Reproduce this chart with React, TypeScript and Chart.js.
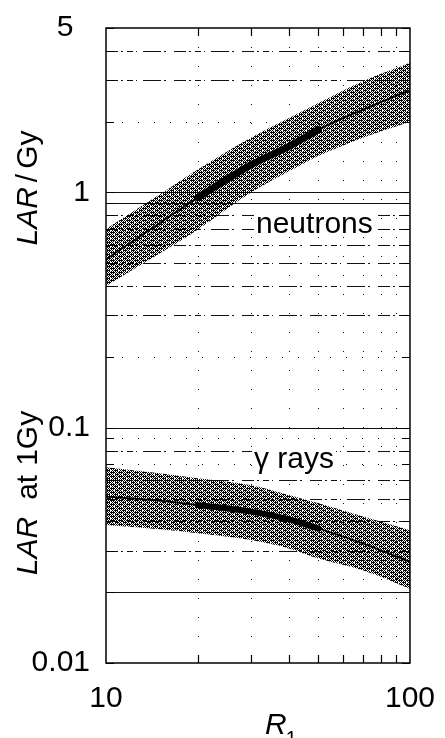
import React, { useEffect, useRef } from 'react';
import { Chart, registerables } from 'chart.js';

Chart.register(...registerables);

// ---- data ----
const R1 = [10, 15, 20, 30, 40, 50, 70, 100];
const neutronUpper = [0.70, 0.98, 1.25, 1.71, 2.07, 2.4, 2.97, 3.56];
const neutronLower = [0.40, 0.55, 0.695, 1.0, 1.23, 1.43, 1.71, 2.0];
const neutronCentral = [0.52, 0.74, 0.95, 1.31, 1.57, 1.85, 2.25, 2.72];

const gammaUpper = [0.068, 0.064, 0.061, 0.057, 0.0518, 0.0477, 0.0419, 0.0367];
const gammaLower = [0.0386, 0.037, 0.0356, 0.0333, 0.0307, 0.0278, 0.0248, 0.0207];
const gammaCentral = [0.051, 0.049, 0.0469, 0.044, 0.0408, 0.0373, 0.0322, 0.0269];

const boldR1 = [20, 30, 40, 50];
const neutronBold = [0.95, 1.31, 1.57, 1.85];
const gammaBold = [0.0469, 0.044, 0.0408, 0.0373];

const xTicks = [10, 20, 30, 40, 50, 60, 70, 80, 90, 100];
const xLabelled = [10, 100];
const yTicks = [
  0.01, 0.02, 0.03, 0.04, 0.05, 0.06, 0.07, 0.08, 0.09,
  0.1, 0.2, 0.3, 0.4, 0.5, 0.6, 0.7, 0.8, 0.9,
  1, 2, 3, 4, 5,
];
const yLabelled = [0.01, 0.1, 1, 5];
const yGridSolid = [0.02, 0.1, 0.9, 1];
const yGridDotted = [2, 0.2, 0.07, 0.09];
const yGridDashed = [4, 3, 0.8, 0.7, 0.6, 0.5, 0.4, 0.3, 0.08, 0.06, 0.05, 0.04, 0.03];
const xGrid = [20, 30, 40, 50, 60, 70, 80, 90];

const FONT = "'Liberation Sans', Arial, Helvetica, sans-serif";

const pts = (xs: number[], ys: number[]) => xs.map((x, i) => ({ x, y: ys[i] }));

function makePattern(): CanvasPattern | string {
  const N = 8;
  const c = document.createElement('canvas');
  c.width = N;
  c.height = N;
  const g = c.getContext('2d');
  if (!g) return '#777';
  g.clearRect(0, 0, N, N);
  g.fillStyle = '#000';
  for (let y = 0; y < N; y++) {
    for (let x = 0; x < N; x++) {
      if ((x + y) % 2 === 0) g.fillRect(x, y, 1, 1);
    }
  }
  // extra dark specks and a couple of light holes, like the scanned dither
  const dark = [[1, 0], [3, 2], [5, 6], [7, 4], [1, 4], [5, 2], [3, 6], [7, 0]];
  dark.forEach(([x, y]) => g.fillRect(x, y, 1, 1));
  g.clearRect(2, 2, 1, 1);
  g.clearRect(6, 6, 1, 1);
  const main = document.createElement('canvas').getContext('2d');
  const p = main ? main.createPattern(c, 'repeat') : null;
  return p || '#777';
}

const decorPlugin = {
  id: 'decor',
  beforeDatasetsDraw(chart: any) {
    const { ctx, chartArea: a, scales } = chart;
    const xs = scales.x;
    const ys = scales.y;
    ctx.save();
    ctx.strokeStyle = '#111';
    ctx.lineWidth = 1;
    const hline = (v: number, dash: number[]) => {
      const y = Math.round(ys.getPixelForValue(v)) + 0.5;
      ctx.setLineDash(dash);
      ctx.beginPath();
      ctx.moveTo(a.left, y);
      ctx.lineTo(a.right, y);
      ctx.stroke();
    };
    yGridSolid.forEach((v) => hline(v, []));
    yGridDashed.forEach((v) => hline(v, [12, 3, 2, 4, 6, 3, 1, 6, 18, 3, 2, 8]));
    yGridDotted.forEach((v) => hline(v, [1, 15]));
    ctx.setLineDash([1, 18]);
    xGrid.forEach((v) => {
      const x = Math.round(xs.getPixelForValue(v)) + 0.5;
      ctx.beginPath();
      ctx.moveTo(x, a.top);
      ctx.lineTo(x, a.bottom);
      ctx.stroke();
    });
    ctx.restore();
  },
  afterDatasetsDraw(chart: any) {
    const { ctx, chartArea: a, scales } = chart;
    const xs = scales.x;
    const ys = scales.y;
    ctx.save();
    ctx.setLineDash([]);
    ctx.strokeStyle = '#000';
    // inward ticks
    ctx.lineWidth = 1.2;
    const TL = 8;
    xGrid.forEach((v) => {
      const x = Math.round(xs.getPixelForValue(v)) + 0.5;
      ctx.beginPath();
      ctx.moveTo(x, a.bottom);
      ctx.lineTo(x, a.bottom - TL);
      ctx.moveTo(x, a.top);
      ctx.lineTo(x, a.top + TL);
      ctx.stroke();
    });
    yTicks.forEach((v) => {
      const y = Math.round(ys.getPixelForValue(v)) + 0.5;
      ctx.beginPath();
      ctx.moveTo(a.left, y);
      ctx.lineTo(a.left + TL, y);
      ctx.moveTo(a.right, y);
      ctx.lineTo(a.right - TL, y);
      ctx.stroke();
    });
    // frame
    ctx.lineWidth = 1.5;
    ctx.strokeRect(a.left, a.top, a.right - a.left, a.bottom - a.top);

    // annotations with white background
    ctx.textBaseline = 'alphabetic';
    ctx.textAlign = 'left';
    ctx.font = `30px ${FONT}`;
    const nText = 'neutrons';
    const nw = ctx.measureText(nText).width;
    ctx.fillStyle = '#fff';
    ctx.fillRect(254, 206, nw + 6, 31);
    ctx.fillStyle = '#000';
    ctx.fillText(nText, 256, 233);

    const gText = 'γ rays';
    const gw = ctx.measureText(gText).width;
    ctx.fillStyle = '#fff';
    ctx.fillRect(252, 445, gw + 4, 33);
    ctx.fillStyle = '#000';
    ctx.fillText(gText, 254, 468);

    // y-axis titles (rotated; baseline on the right side)
    const drawRotated = (parts: { t: string; italic: boolean }[], gaps: number[], baseX: number, cy: number, size: number) => {
      ctx.save();
      ctx.translate(baseX, cy);
      ctx.rotate(-Math.PI / 2);
      const widths = parts.map((p) => {
        ctx.font = `${p.italic ? 'italic ' : ''}${size}px ${FONT}`;
        return ctx.measureText(p.t).width;
      });
      const total = widths.reduce((s, w) => s + w, 0) + gaps.reduce((s, w) => s + w, 0);
      let x = -total / 2;
      ctx.textBaseline = 'alphabetic';
      ctx.fillStyle = '#000';
      parts.forEach((p, i) => {
        ctx.font = `${p.italic ? 'italic ' : ''}${size}px ${FONT}`;
        ctx.fillText(p.t, x, 0);
        x += widths[i] + (gaps[i] || 0);
      });
      ctx.restore();
    };
    drawRotated(
      [
        { t: 'LAR', italic: true },
        { t: '/', italic: false },
        { t: 'Gy', italic: false },
      ],
      [5, 5],
      37, 188, 30
    );
    drawRotated(
      [
        { t: 'LAR', italic: true },
        { t: 'at', italic: false },
        { t: '1Gy', italic: false },
      ],
      [17, 9],
      37, 493, 30
    );

    // x-axis title R1
    ctx.textBaseline = 'alphabetic';
    ctx.fillStyle = '#000';
    ctx.font = `italic 30px ${FONT}`;
    ctx.fillText('R', 265, 734);
    const rw = ctx.measureText('R').width;
    ctx.font = `20px ${FONT}`;
    ctx.fillText('1', 265 + rw - 1, 745);
    ctx.restore();
  },
};

export default function App() {
  const ref = useRef<HTMLCanvasElement | null>(null);

  useEffect(() => {
    if (!ref.current) return;
    const pattern = makePattern();
    const band = (ys: number[], fill: any) => ({
      data: pts(R1, ys),
      borderColor: 'rgba(0,0,0,0)',
      backgroundColor: pattern,
      borderWidth: 1,
      pointRadius: 0,
      fill,
      cubicInterpolationMode: 'monotone',
      order: 5,
    });
    const line = (xs: number[], ys: number[], w: number, order: number) => ({
      data: pts(xs, ys),
      borderColor: '#000',
      borderWidth: w,
      pointRadius: 0,
      fill: false,
      cubicInterpolationMode: 'monotone',
      borderCapStyle: 'round',
      order,
    });
    const chart = new Chart(ref.current, {
      type: 'line',
      data: {
        datasets: [
          band(neutronUpper, '+1'),
          band(neutronLower, false),
          line(R1, neutronCentral, 1.8, 2),
          line(boldR1, neutronBold, 7, 1),
          band(gammaUpper, '+1'),
          band(gammaLower, false),
          line(R1, gammaCentral, 1.8, 2),
          line(boldR1, gammaBold, 6, 1),
        ] as any,
      },
      options: {
        animation: false,
        responsive: false,
        maintainAspectRatio: false,
        layout: { padding: { top: 28, right: 30, left: 0, bottom: 0 } },
        plugins: {
          legend: { display: false },
          tooltip: { enabled: false },
        },
        scales: {
          x: {
            type: 'logarithmic',
            min: 10,
            max: 100,
            grid: { display: false },
            border: { display: false },
            afterBuildTicks: (s: any) => {
              s.ticks = xTicks.map((v) => ({ value: v }));
            },
            afterFit: (s: any) => {
              s.height = 75;
            },
            ticks: {
              autoSkip: false,
              maxRotation: 0,
              padding: 10,
              color: '#000',
              font: { size: 30, family: FONT },
              callback: (v: any) => (xLabelled.includes(Number(v)) ? String(v) : ''),
            },
          },
          y: {
            type: 'logarithmic',
            min: 0.01,
            max: 5,
            grid: { display: false },
            border: { display: false },
            afterBuildTicks: (s: any) => {
              s.ticks = yTicks.map((v) => ({ value: v }));
            },
            afterFit: (s: any) => {
              s.width = 106;
            },
            ticks: {
              autoSkip: false,
              padding: 8,
              color: '#000',
              font: { size: 30, family: FONT },
              callback: (v: any) => {
                const n = Number(v);
                if (!yLabelled.includes(n)) return '';
                return n === 5 ? '5\u00A0\u00A0' : String(n);
              },
            },
          },
        },
      } as any,
      plugins: [decorPlugin],
    });
    return () => chart.destroy();
  }, []);

  return (
    <div style={{ position: 'absolute', left: 0, top: 0, width: 445, height: 738, background: '#fff' }}>
      <canvas ref={ref} width={445} height={738} style={{ display: 'block', width: 445, height: 738 }} />
    </div>
  );
}
